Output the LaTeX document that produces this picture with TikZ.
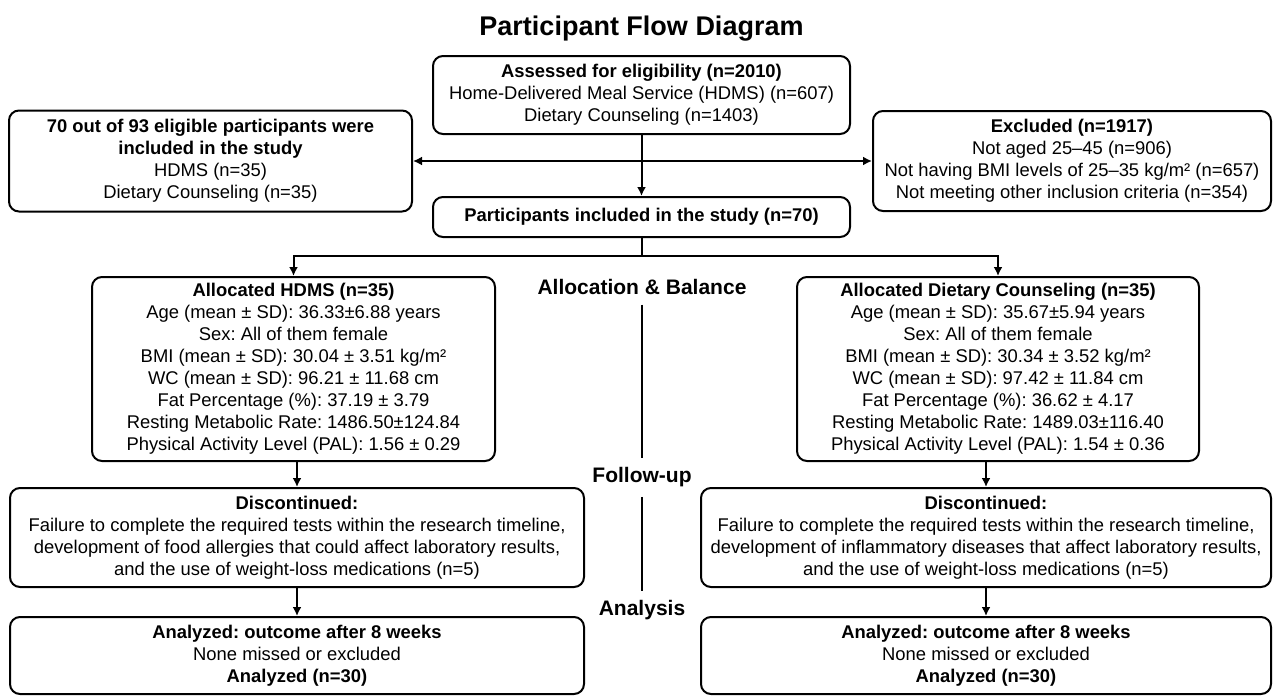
\documentclass[tikz,border=0pt]{standalone}
\usepackage{fontspec}
\setmainfont{Liberation Sans}
\usetikzlibrary{arrows.meta}
\frenchspacing

\begin{document}
\begin{tikzpicture}[x=0.5pt,y=-0.5pt,line width=1pt,
        every node/.style={inner sep=0pt, align=center, font=\fontsize{9.2}{11}\selectfont},
        box/.style={draw, line width=1pt, rounded corners=5pt},
        stage/.style={font=\fontsize{10.5}{12}\selectfont\bfseries},
        >={Latex[length=4.5pt,width=4.5pt]}]
        \useasboundingbox (0,0) rectangle (1274,696);

        \node[font=\fontsize{13.5}{16}\selectfont\bfseries] (title) at (641.5,29) {Participant Flow Diagram};

        \node[box, minimum width=208.5pt, minimum height=39pt] (assess) at (641.5,95)
            {\textbf{Assessed for eligibility (n=2010)}\\Home-Delivered Meal Service (HDMS) (n=607)\\Dietary Counseling (n=1403)};
        \node[box, minimum width=201.5pt, minimum height=50.5pt] (incl) at (210.5,161)
            {\textbf{70 out of 93 eligible participants were}\\\textbf{included in the study}\\HDMS (n=35)\\Dietary Counseling (n=35)};
        \node[box, minimum width=199pt, minimum height=50pt] (excl) at (1072,161)
            {\textbf{Excluded (n=1917)}\\Not aged 25–45 (n=906)\\Not having BMI levels of 25–35 kg/m² (n=657)\\Not meeting other inclusion criteria (n=354)};
        \node[box, minimum width=208.5pt, minimum height=20pt] (partic) at (641.5,217)
            {\textbf{Participants included in the study (n=70)}};
        \coordinate (split) at (641.5,256);

        \node[box, minimum width=201.5pt, minimum height=92pt] (allocH) at (293.5,369)
            {\textbf{Allocated HDMS (n=35)}\\Age (mean ± SD): 36.33±6.88 years\\Sex: All of them female\\BMI (mean ± SD): 30.04 ± 3.51 kg/m²\\WC (mean ± SD): 96.21 ± 11.68 cm\\Fat Percentage (\%): 37.19 ± 3.79\\Resting Metabolic Rate: 1486.50±124.84\\Physical Activity Level (PAL): 1.56 ± 0.29};
        \node[box, minimum width=201pt, minimum height=92pt] (allocD) at (998,369)
            {\textbf{Allocated Dietary Counseling (n=35)}\\Age (mean ± SD): 35.67±5.94 years\\Sex: All of them female\\BMI (mean ± SD): 30.34 ± 3.52 kg/m²\\WC (mean ± SD): 97.42 ± 11.84 cm\\Fat Percentage (\%): 36.62 ± 4.17\\Resting Metabolic Rate: 1489.03±116.40\\Physical Activity Level (PAL): 1.54 ± 0.36};

        \node[box, minimum width=287pt, minimum height=49.5pt] (discH) at (297,537.5)
            {\textbf{Discontinued:}\\Failure to complete the required tests within the research timeline,\\development of food allergies that could affect laboratory results,\\and the use of weight-loss medications (n=5)};
        \node[box, minimum width=285pt, minimum height=49.5pt] (discD) at (986,537.5)
            {\textbf{Discontinued:}\\Failure to complete the required tests within the research timeline,\\development of inflammatory diseases that affect laboratory results,\\and the use of weight-loss medications (n=5)};

        \node[box, minimum width=287pt, minimum height=38.5pt] (anH) at (297,655.5)
            {\textbf{Analyzed: outcome after 8 weeks}\\None missed or excluded\\\textbf{Analyzed (n=30)}};
        \node[box, minimum width=285pt, minimum height=38.5pt] (anD) at (986,655.5)
            {\textbf{Analyzed: outcome after 8 weeks}\\None missed or excluded\\\textbf{Analyzed (n=30)}};

        % stage labels down the middle
        \node[stage] (allocLab) at (642,287) {Allocation \& Balance};
        \node[stage] (followLab) at (642,477) {Follow-up};
        \node[stage] (anLab) at (642,610) {Analysis};

        \path[->] (assess) edge (partic)
            (incl.east) edge[<->] (excl.west)
            (discH) edge (anH)
            (discD) edge (anD);
        \draw (partic) -- (split);
        \draw[->] (split) -| (allocH);
        \draw[->] (split) -| (allocD);
        \draw[->] (discH.north |- allocH.south) -- (discH);
        \draw[->] (discD.north |- allocD.south) -- (discD);

        \path[shorten <=4.5pt, shorten >=4pt] (allocLab) edge (followLab)
            (followLab) edge (anLab);
\end{tikzpicture}
\end{document}
